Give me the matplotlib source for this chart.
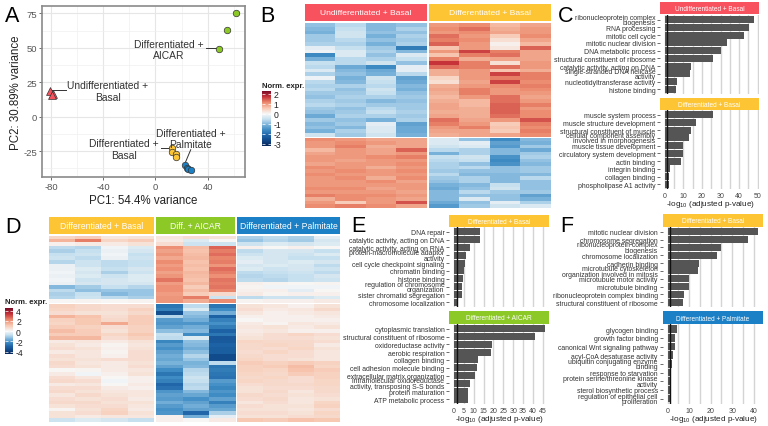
import matplotlib
matplotlib.use("Agg")
import matplotlib.pyplot as plt
from matplotlib.colors import TwoSlopeNorm, LinearSegmentedColormap
from matplotlib.cm import ScalarMappable
import numpy as np

plt.rcParams['font.family'] = ['Liberation Sans', 'DejaVu Sans']
plt.rcParams['mathtext.default'] = 'regular'
plt.rcParams['axes.unicode_minus'] = False

W, H = 768, 427
RED, YEL, GRN, BLU = '#f9525f', '#fdc533', '#8cc926', '#1b80c5'
CMAP = LinearSegmentedColormap.from_list('expr', [
    (0.0, '#08285c'), (0.085, '#124a8a'), (0.165, '#1f65a8'), (0.25, '#3f8cc4'),
    (0.335, '#7fb6dc'), (0.415, '#c5dfef'), (0.5, '#f7f7f7'),
    (0.625, '#f8c9b3'), (0.75, '#ec8a6e'), (0.875, '#c6343a'), (1.0, '#7a0a25')])

# ---- Panel A data
undiff_x = [-80.5, -78.5, -79.5]
undiff_y = [19, 16.5, 15.5]
basal_x = [12.5, 12.3, 15.5, 15.7]
basal_y = [-23, -26, -27, -29]
aicar_x = [61.5, 54.5, 49]
aicar_y = [75, 63, 49.5]
palm_x = [23, 24, 25, 27]
palm_y = [-35, -37, -38, -39]

# ---- Panel B data (rows x samples)
b_top_undiff = [
 [-0.9,-0.6,-1.0,-0.9],[-1.0,-0.5,-1.0,-0.7],[-1.1,-0.4,-0.9,-0.9],[-0.8,-0.4,-1.1,-0.7],
 [-0.8,-0.6,-0.9,-0.8],[-0.7,-0.7,-1.1,-0.7],[-0.2,-0.5,-0.8,-1.8],[-0.1,-0.3,-0.7,-1.0],
 [-1.6,-0.3,-0.9,-0.3],[-1.1,-0.6,-0.7,-0.5],[-0.5,-0.6,-0.4,-0.9],[-0.6,-1.2,-1.6,-0.2],
 [-0.3,-1.0,-1.2,-0.2],[-0.7,-0.9,-1.1,-0.6],[-0.1,-1.1,-0.4,-1.3],[-0.6,-1.0,-0.5,-1.2],
 [-0.7,-0.7,-0.6,-1.0],[-0.6,-0.9,-0.4,-1.1],[-0.8,-0.8,-0.5,-0.9],[-0.9,-0.7,-0.7,-0.8],
 [-0.7,-0.8,-1.0,-0.9],[-0.6,-0.7,-0.8,-0.8],[-0.8,-0.9,-0.6,-0.8],[-0.9,-0.8,-0.5,-0.7],
 [-1.2,-0.7,-0.7,-0.8],[-0.8,-0.9,-1.1,-0.7],[-1.0,-0.8,-0.2,-1.3],[-0.9,-1.0,-0.3,-1.2],
 [-1.1,-0.7,-0.3,-1.2],[-0.4,-0.8,-0.4,-1.1]]
b_top_diff = [
 [1.0,1.1,0.7,0.9],[1.1,1.3,0.8,1.0],[1.0,1.1,0.9,1.0],[1.3,1.0,0.5,1.1],
 [1.2,1.1,0.3,0.9],[1.4,1.0,0.1,0.7],[0.6,1.0,0.2,1.4],[1.0,1.6,1.2,0.9],
 [0.6,1.2,1.3,0.9],[1.2,0.8,0.9,0.9],[1.7,1.2,0.3,1.0],[1.3,1.2,1.3,1.0],
 [0.8,1.0,0.6,0.8],[0.8,1.0,1.6,1.2],[0.4,1.0,1.2,1.2],[0.3,0.9,1.6,1.1],
 [0.8,1.0,1.1,1.2],[0.9,1.2,1.0,1.1],[0.8,1.2,1.0,1.0],[0.7,1.0,1.3,0.9],
 [0.8,0.7,1.3,1.0],[0.9,0.7,1.4,1.2],[0.9,0.8,1.4,1.0],[0.8,0.8,1.4,1.1],
 [0.9,0.8,1.3,1.1],[1.3,0.9,1.0,1.5],[1.2,1.0,0.5,1.2],[1.0,1.2,0.6,1.1],
 [0.9,0.9,0.5,1.2],[0.8,0.9,0.9,1.1]]
b_bot_undiff = [
 [1.1,1.0,0.9,0.9],[1.0,1.1,1.0,0.9],[1.0,1.2,0.8,0.9],[0.7,1.0,0.9,1.4],
 [0.9,1.0,0.9,1.0],[1.0,1.0,1.1,1.2],[1.0,0.9,1.0,1.0],[0.9,1.0,1.0,1.1],
 [1.1,1.0,0.8,1.0],[1.0,1.1,1.0,1.1],[1.1,1.0,1.0,1.0],[1.0,1.1,0.8,1.1],
 [1.0,1.0,1.1,0.9],[1.0,1.0,1.0,1.0],[1.1,1.1,0.9,1.0],[1.0,1.0,1.0,0.9],
 [1.2,1.1,1.1,1.0],[0.8,1.1,1.0,0.9],[1.0,0.5,1.0,1.5],[1.1,1.2,1.1,0.9]]
b_bot_diff = [
 [-0.3,-0.9,-1.6,-1.0],[-0.3,-0.2,-1.3,-1.1],[-0.4,-0.3,-1.4,-0.8],[-0.6,-0.7,-1.0,-1.2],
 [-1.1,-0.7,-1.0,-0.8],[-0.5,-0.4,-1.5,-0.7],[-0.6,-0.5,-1.6,-0.9],[-0.7,-0.9,-1.5,-1.0],
 [-0.7,-0.6,-0.9,-0.8],[-0.8,-0.9,-0.9,-0.8],[-0.6,-1.0,-1.0,-1.0],[-0.8,-0.7,-1.0,-0.6],
 [-0.9,-0.7,-1.0,-0.9],[-1.1,-1.0,-0.5,-0.9],[-1.2,-0.9,-0.4,-0.9],[-1.0,-0.6,-0.8,-0.8],
 [-1.0,-0.9,-0.9,-1.3],[-1.0,-0.3,-0.9,-1.1],[-1.2,-0.9,-0.2,-0.7],[-1.4,-0.8,-0.4,-0.3]]

# ---- Panel D data
d_top_basal = [
 [0.8,1.0,0.4,0.5],[1.5,2.4,0.8,1.0],[0.2,0.3,0.3,0.5],[-0.8,-0.9,-0.1,-0.4],
 [-1.0,-0.7,-0.2,-0.5],[-0.7,-0.6,-0.1,-0.7],[-0.6,-0.8,-0.2,-0.6],[-0.9,-0.6,-0.8,-0.7],
 [-0.2,-0.6,-0.8,-0.7],[-0.2,-0.4,-0.7,-0.5],[-0.1,-0.5,-1.0,-0.6],[-0.2,-0.4,-0.6,-0.4],
 [-0.1,-0.6,-0.5,-0.4],[-0.2,-0.5,-0.5,-0.5],[-1.4,-1.1,-0.7,-0.9],[-0.8,-1.3,-1.2,-1.2],
 [-1.0,-0.7,-1.4,-1.2],[-0.9,-0.6,-0.8,-1.0],[0.0,0.1,0.0,0.1]]
d_top_aicar = [
 [0.4,0.6,0.5],[0.3,-0.4,0.0],[0.6,-0.6,-0.6],[2.1,1.3,2.7],
 [1.8,1.2,2.4],[2.0,1.3,2.6],[1.7,1.4,2.3],[2.2,1.2,2.4],
 [1.9,1.3,2.0],[2.1,1.2,2.6],[1.8,1.4,2.4],[2.0,1.3,2.1],
 [2.5,1.2,2.5],[1.9,1.4,2.4],[2.1,1.0,2.5],[2.1,1.3,2.3],
 [1.9,1.0,0.7],[2.0,2.4,-0.6],[2.0,1.6,2.2]]
d_top_palm = [
 [-1.0,-0.8,-1.0,-0.3],[-1.2,-0.9,-1.1,-0.5],[-0.6,-0.4,-0.5,-0.4],[0.2,0.0,0.2,0.0],
 [-0.8,-0.5,-0.5,-0.7],[-0.6,-0.5,-0.6,-0.4],[-0.4,-0.5,-0.7,-0.7],[-0.3,-0.5,-0.4,-0.5],
 [-0.5,-0.4,-0.5,-0.8],[-0.4,-0.6,-0.5,-0.6],[-0.8,-0.7,-0.6,-0.8],[-0.9,-0.8,-0.7,-0.5],
 [-0.8,-0.9,-0.7,-0.6],[0.2,0.1,0.0,0.1],[0.1,-0.1,-0.1,-0.1],[0.2,0.2,-0.3,0.0],
 [0.3,0.1,0.2,0.2],[-0.8,-0.6,-0.6,-0.4],[0.1,0.2,0.2,0.3]]
d_bot_basal = [
 [0.9,0.7,0.6,0.6],[0.8,0.7,0.6,0.9],[0.6,0.5,0.5,0.7],[1.5,1.2,0.6,1.0],
 [0.9,1.1,0.7,1.0],[0.8,1.1,1.7,1.0],[1.0,0.9,0.6,0.9],[1.3,1.0,0.5,0.9],
 [1.0,1.0,0.8,1.1],[1.4,1.4,0.6,0.9],[0.3,0.4,0.3,0.5],[0.5,0.3,0.1,0.4],
 [0.6,0.5,0.2,0.5],[0.3,0.4,0.1,0.6],[0.6,0.4,0.2,0.6],[0.5,0.5,0.6,0.6],
 [0.7,0.4,0.3,0.5],[0.6,0.5,0.3,0.6],[0.0,0.1,0.3,0.4],[0.3,-0.1,0.2,0.5],
 [0.6,0.4,0.0,0.2],[0.7,0.6,-0.1,0.2],[0.3,0.4,0.0,0.3],[0.6,0.6,0.3,0.2],
 [0.7,0.5,0.4,0.4],[0.4,0.7,0.5,0.4],[0.6,0.5,0.6,0.3],[0.7,0.7,0.5,0.5],
 [0.5,0.6,0.6,0.4],[0.1,0.5,0.8,0.3],[0.5,0.6,0.9,0.5],[0.5,0.3,0.4,0.4],
 [-0.6,-0.4,-0.5,-0.7]]
d_bot_aicar = [
 [-2.6,-0.8,-2.6],[-2.4,-0.4,-2.2],[-3.5,-1.2,-1.6],[-0.9,-1.4,-3.0],
 [-1.9,-1.6,-2.4],[-2.0,-2.0,-2.1],[-1.8,-1.6,-2.5],[-1.3,-1.4,-3.0],
 [-0.7,-2.2,-2.6],[-0.8,-0.4,-3.3],[-2.3,-1.3,-3.2],[-1.9,-1.4,-3.0],
 [-2.1,-1.6,-3.1],[-1.8,-1.3,-3.1],[-1.6,-0.9,-3.6],[-1.7,-1.2,-3.6],
 [-1.5,-1.5,-0.8],[-1.8,-1.4,-2.6],[-2.2,-0.9,-2.5],[-2.6,-0.8,-2.6],
 [-2.2,-0.6,-2.7],[-2.4,-0.7,-1.9],[-2.9,-0.9,-2.1],[-2.7,-0.8,-2.3],
 [-2.0,-1.4,-2.0],[-1.8,-1.7,-2.2],[-1.9,-2.1,-1.8],[-1.6,-1.8,-2.4],
 [-1.9,-1.6,-1.9],[-2.1,-1.8,-1.7],[-2.0,-2.9,-1.0],[0.2,-1.6,-0.3],
 [0.2,0.0,0.3]]
d_bot_palm = [
 [0.5,0.4,0.2,0.5],[0.6,0.3,0.4,0.7],[0.4,0.2,0.3,0.4],[0.2,0.2,0.2,0.3],
 [0.0,0.2,0.2,0.2],[0.3,0.1,0.4,0.3],[0.4,0.5,0.3,0.5],[0.3,0.4,0.2,0.2],
 [0.4,0.6,0.8,0.6],[0.5,0.6,0.6,0.5],[0.8,0.7,0.7,0.6],[0.7,0.8,0.7,0.3],
 [0.7,0.6,0.8,0.5],[0.6,0.8,0.6,0.4],[0.7,0.6,0.6,0.4],[0.8,0.6,0.5,0.4],
 [1.0,0.9,1.0,0.9],[0.9,1.0,1.3,0.8],[0.9,0.8,1.2,1.0],[0.8,0.7,1.0,0.9],
 [0.7,0.8,0.6,0.9],[0.8,0.7,0.6,0.8],[0.6,0.7,0.7,0.8],[0.5,0.6,0.6,0.7],
 [0.5,0.7,0.4,0.7],[0.7,0.6,0.5,0.6],[0.6,0.7,0.4,0.5],[0.4,0.6,0.4,0.8],
 [0.6,0.5,0.5,0.9],[0.5,0.5,0.4,0.6],[0.6,0.6,0.5,0.8],[0.5,0.5,0.6,0.7],
 [1.1,1.0,1.2,1.1]]

# ---- Bar panel data
c1_terms = ['ribonucleoprotein complex\nbiogenesis','RNA processing','mitotic cell cycle','mitotic nuclear division',
            'DNA metabolic process','structural constituent of ribosome','catalytic activity, acting on DNA',
            'single-stranded DNA helicase\nactivity','nucleotidyltransferase activity','histone binding']
c1_vals = [48, 45.5, 42.5, 33.5, 30, 26, 14, 13.5, 6.5, 6]
c2_terms = ['muscle system process','muscle structure development','structural constituent of muscle',
            'cellular component assembly\ninvolved in morphogenesis','muscle tissue development',
            'circulatory system development','actin binding','integrin binding','collagen binding','phospholipase A1 activity']
c2_vals = [26, 17, 14, 13, 10, 10, 8.5, 3, 2.5, 2.5]
e1_terms = ['DNA repair','catalytic activity, acting on DNA','catalytic activity, acting on RNA',
            'protein-macromolecule adaptor\nactivity','cell cycle checkpoint signaling','chromatin binding','histone binding',
            'regulation of chromosome\norganization','sister chromatid segregation','chromosome localization']
e1_vals = [13.3, 13, 8.3, 6.2, 5.4, 4.8, 4.3, 4.2, 4, 1.5]
e2_terms = ['cytoplasmic translation','structural constituent of ribosome','oxidoreductase activity','aerobic respiration',
            'collagen binding','cell adhesion molecule binding','extracellular matrix organization',
            'intramolecular oxidoreductase\nactivity, transposing S-S bonds','protein maturation','ATP metabolic process']
e2_vals = [46, 40.8, 19, 18.6, 12.3, 11.8, 10.8, 8.3, 7.3, 7.2]
f1_terms = ['mitotic nuclear division','chromosome segregation','ribonucleoprotein complex\nbiogenesis','chromosome localization',
            'cadherin binding','microtubule cytoskeleton\norganization involved in mitosis','microtubule motor activity',
            'microtubule binding','ribonucleoprotein complex binding','structural constituent of ribosome']
f1_vals = [42, 37.5, 25, 23, 14.7, 14, 10, 9.8, 7.7, 7]
f2_terms = ['glycogen binding','growth factor binding','canonical Wnt signaling pathway','acyl-CoA desaturase activity',
            'ubiquitin conjugating enzyme\nbinding','response to starvation','protein serine/threonine kinase\nactivity',
            'sterol biosynthetic process','regulation of epithelial cell\nproliferation']
f2_vals = [4.2, 3.6, 3.5, 2.5, 2.2, 1.5, 1.3, 1.2, 1.2]

c_ticks = [0, 10, 20, 30, 40, 50]
e_ticks = [0, 5, 10, 15, 20, 25, 30, 35, 40, 45]
f_ticks = [0, 10, 20, 30, 40]

fig = plt.figure(figsize=(W / 100, H / 100), dpi=100, facecolor='white')


def box(l, t, r, b):
    return fig.add_axes([l / W, 1 - b / H, (r - l) / W, (b - t) / H])


def px_text(x, y, s, **kw):
    fig.text(x / W, 1 - y / H, s, **kw)


def strip(l, t, r, b, color, label, size):
    ax = box(l, t, r, b)
    ax.set_facecolor(color)
    ax.set_xticks([])
    ax.set_yticks([])
    for s in ax.spines.values():
        s.set_visible(False)
    ax.text(0.5, 0.47, label, color='white', ha='center', va='center', fontsize=size,
            transform=ax.transAxes)


def heat(l, t, r, b, rows, norm):
    ax = box(l, t, r, b)
    ax.imshow(np.array(rows), cmap=CMAP, norm=norm, aspect='auto', interpolation='nearest')
    ax.axis('off')


def cbar(l, t, r, b, norm, ticks, title, tx, ty):
    ax = box(l, t, r, b)
    cb = fig.colorbar(ScalarMappable(norm=norm, cmap=CMAP), cax=ax, ticks=ticks)
    ax.set_yscale('linear')
    ax.set_ylim(norm.vmin, norm.vmax)
    ax.set_yticks(ticks)
    cb.outline.set_visible(False)
    ax.tick_params(axis='y', direction='in', color='white', length=2, width=0.5, left=True, right=True,
                   labelsize=6.2, pad=2, labelcolor='#222222')
    px_text(tx, ty, title, fontsize=5.6, fontweight='bold', color='#222222', ha='left', va='center')


def bars(l, t, r, b, xlim, terms, vals, ticks, show_x, size=4.95):
    ax = box(l, t, r, b)
    y = np.arange(len(terms))
    ax.barh(y, vals, height=0.9, color='#555555', zorder=3)
    ax.axvline(1.3, color='#111111', lw=1.0, zorder=4)
    ax.set_xlim(*xlim)
    ax.set_ylim(len(terms) - 0.4, -0.6)
    ax.set_yticks(y)
    ax.set_yticklabels(terms, fontsize=size, color='#333333', linespacing=0.72)
    major = np.array(ticks)
    step = major[1] - major[0]
    grid = major if step == 5 else np.arange(major[0], major[-1] + 1, 5)
    for g in grid:
        ax.axvline(g, color='#d4d4d4', lw=1.0, zorder=1)
    ax.set_xticks(ticks)
    ax.tick_params(axis='y', length=2, width=0.5, pad=1.5, color='#333333')
    ax.tick_params(axis='x', length=0, labelsize=5.0, labelcolor='#444444', pad=2.5,
                   labelbottom=show_x)
    for s in ax.spines.values():
        s.set_visible(False)
    return ax


# ---- Panel A
ax = box(41.7, 7, 245, 178)
ax.set_xlim(-87.2, 68.6)
ax.set_ylim(-43.8, 80.4)
ax.set_xticks([-80, -40, 0, 40])
ax.set_yticks([-25, 0, 25, 50, 75])
ax.set_xticks([-60, -20, 20, 60], minor=True)
ax.set_yticks([-37.5, -12.5, 12.5, 37.5, 62.5], minor=True)
ax.grid(True, which='major', color='#e6e6e6', lw=0.8)
ax.grid(True, which='minor', color='#f0f0f0', lw=0.5)
ax.set_axisbelow(True)
ax.tick_params(axis='both', which='major', labelsize=6.8, labelcolor='#555555', length=2, width=0.6,
               color='#555555', pad=1.5)
ax.tick_params(axis='both', which='minor', length=0)
for s in ax.spines.values():
    s.set_color('#8a8a8a')
    s.set_linewidth(1.2)
ax.set_xlabel('PC1: 54.4% variance', fontsize=8.3, color='#222222', labelpad=2)
ax.set_ylabel('PC2: 30.89% variance', fontsize=8.3, color='#222222', labelpad=1)
ax.scatter(undiff_x, undiff_y, marker='^', s=32, c=RED, edgecolors='#333333', linewidths=0.5, zorder=3)
for xs, ys, col in [(basal_x, basal_y, YEL), (aicar_x, aicar_y, GRN), (palm_x, palm_y, BLU)]:
    ax.scatter(xs, ys, marker='o', s=22, c=col, edgecolors='#333333', linewidths=0.5, zorder=3)
for seg in [((-79, -68.6), (19.2, 19.2)), ((39, 49), (49.7, 49.7)), ((4, 11), (-23, -23)), ((27, 23), (-24, -33))]:
    ax.plot(seg[0], seg[1], color='#333333', lw=0.7, zorder=2)
lab = dict(fontsize=7.4, color='#333333', ha='center', va='center', linespacing=1.15, zorder=5)
ax.text(-36.4, 18.7, 'Undifferentiated +\nBasal', **lab)
ax.text(10.3, 49, 'Differentiated +\nAICAR', **lab)
ax.text(27.2, -16, 'Differentiated +\nPalmitate', **lab)
ax.text(-24, -23.5, 'Differentiated +\nBasal', **lab)

# ---- Panel B
norm_b = TwoSlopeNorm(vmin=-3.17, vcenter=0, vmax=2.27)
strip(305.3, 4.7, 427, 21.7, RED, 'Undifferentiated + Basal', 6.1)
strip(429, 4.7, 551, 21.7, YEL, 'Differentiated + Basal', 6.1)
heat(305.3, 23.7, 427, 137.7, b_top_undiff, norm_b)
heat(429, 23.7, 551, 137.7, b_top_diff, norm_b)
heat(305.3, 139, 427, 209, b_bot_undiff, norm_b)
heat(429, 139, 551, 209, b_bot_diff, norm_b)
cbar(261.7, 92, 270.7, 146.7, norm_b, [2, 1, 0, -1, -2, -3], 'Norm. expr.', 261.7, 86)

# ---- Panel C
strip(660.3, 3.3, 758.7, 15.3, RED, 'Undifferentiated + Basal', 4.7)
bars(660.3, 16, 758.7, 95, (-2.4, 50.5), c1_terms, c1_vals, c_ticks, False)
strip(660.3, 99, 758.7, 110.7, YEL, 'Differentiated + Basal', 4.7)
bars(660.3, 111, 758.7, 190, (-2.4, 50.5), c2_terms, c2_vals, c_ticks, True)
px_text(710, 205, '-log$_{10}$ (adjusted p-value)', fontsize=5.9, color='#222222', ha='center', va='center')

# ---- Panel D
norm_d = TwoSlopeNorm(vmin=-4.4, vcenter=0, vmax=4.47)
strip(49, 218, 154, 234.7, YEL, 'Differentiated + Basal', 6.2)
strip(156, 218, 235.3, 234.7, GRN, 'Diff. + AICAR', 6.2)
strip(237, 218, 340, 234.7, BLU, 'Differentiated + Palmitate', 6.2)
heat(49, 236.7, 154, 304, d_top_basal, norm_d)
heat(156, 236.7, 235.3, 304, d_top_aicar, norm_d)
heat(237, 236.7, 340, 304, d_top_palm, norm_d)
heat(49, 305, 154, 422.7, d_bot_basal, norm_d)
heat(156, 305, 235.3, 422.7, d_bot_aicar, norm_d)
heat(237, 305, 340, 422.7, d_bot_palm, norm_d)
cbar(4.7, 309.3, 13.3, 354.7, norm_d, [4, 2, 0, -2, -4], 'Norm. expr.', 4.7, 303)

# ---- Panel E
strip(449.3, 216, 549.3, 227.7, YEL, 'Differentiated + Basal', 4.7)
bars(449.3, 228, 549.3, 308, (-2.4, 48.3), e1_terms, e1_vals, e_ticks, False)
strip(449.3, 312.3, 549.3, 324.7, GRN, 'Differentiated + AICAR', 4.7)
bars(449.3, 325, 549.3, 404.7, (-2.4, 48.3), e2_terms, e2_vals, e_ticks, True)
px_text(499, 420, '-log$_{10}$ (adjusted p-value)', fontsize=5.9, color='#222222', ha='center', va='center')

# ---- Panel F
strip(662.7, 215.3, 762.7, 227.7, YEL, 'Differentiated + Basal', 4.7)
bars(662.7, 228, 762.7, 308, (-2.3, 44.2), f1_terms, f1_vals, f_ticks, False)
strip(662.7, 312.3, 762.7, 325, BLU, 'Differentiated + Palmitate', 4.7)
bars(662.7, 325, 762.7, 404.7, (-2.3, 44.2), f2_terms, f2_vals, f_ticks, True)
px_text(713, 420, '-log$_{10}$ (adjusted p-value)', fontsize=5.9, color='#222222', ha='center', va='center')

# ---- Panel letters
for s, x, y in [('A', 5, 16.5), ('B', 260, 16.5), ('C', 558, 16.5), ('D', 5, 228), ('E', 351, 227), ('F', 560, 227)]:
    px_text(x, y, s, fontsize=15.5, color='black', ha='left', va='center')

fig.savefig('out.png', dpi=100)
